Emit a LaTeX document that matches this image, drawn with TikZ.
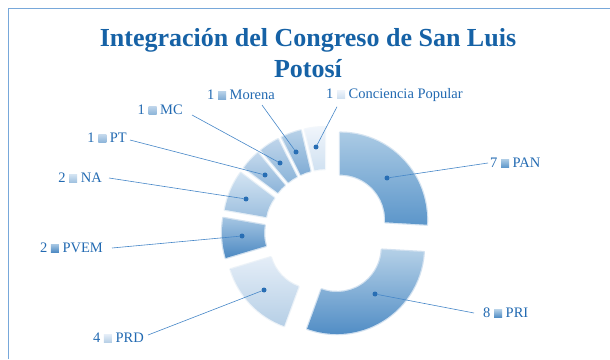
\documentclass[tikz,border=0pt]{standalone}
\usepackage{fontspec}
\setmainfont{Liberation Serif}
\usetikzlibrary{calc}
\definecolor{framec}{RGB}{120,168,218}
\definecolor{titlec}{RGB}{22,98,166}
\definecolor{labelc}{RGB}{34,106,178}
\definecolor{linec}{RGB}{70,135,200}
\definecolor{dotc}{RGB}{40,110,180}
% segment colours (top / bottom)
\definecolor{panT}{RGB}{170,202,228}\definecolor{panB}{RGB}{92,150,202}
\definecolor{priT}{RGB}{180,208,231}\definecolor{priB}{RGB}{78,139,196}
\definecolor{prdT}{RGB}{228,237,247}\definecolor{prdB}{RGB}{182,207,230}
\definecolor{pvemT}{RGB}{164,197,226}\definecolor{pvemB}{RGB}{76,137,194}
\definecolor{naT}{RGB}{210,227,242}\definecolor{naB}{RGB}{158,192,223}
\definecolor{ptT}{RGB}{195,216,236}\definecolor{ptB}{RGB}{140,180,217}
\definecolor{mcT}{RGB}{190,212,234}\definecolor{mcB}{RGB}{140,181,217}
\definecolor{morT}{RGB}{183,209,232}\definecolor{morB}{RGB}{128,172,213}
\definecolor{cpT}{RGB}{240,245,251}\definecolor{cpB}{RGB}{208,225,241}
\newcommand{\dseg}[5]{%
  \begin{scope}[shift={(C)},shift={(#3:18)}]
    \path[draw=#5,draw opacity=.25,line width=2.4pt,line join=round]
      (#1:45) -- (#1:87) arc[start angle=#1,end angle=#2,radius=87]
      -- (#2:45) arc[start angle=#2,end angle=#1,radius=45] -- cycle;
    \path[top color=#4,bottom color=#5]
      (#1:45) -- (#1:87) arc[start angle=#1,end angle=#2,radius=87]
      -- (#2:45) arc[start angle=#2,end angle=#1,radius=45] -- cycle;
  \end{scope}}
\newcommand{\kbox}[2]{\tikz[baseline=0pt]\path[top color=#1,bottom color=#2] (0,0.3pt) rectangle (8pt,8.3pt);}
\tikzset{
  lbl/.style={font=\fontsize{14.5}{16}\selectfont, text=labelc, inner sep=1pt},
  leader/.style={draw=linec, line width=0.6pt},
  dotmark/.style={circle, fill=dotc, inner sep=0pt, minimum size=5pt},
}
\begin{document}
\begin{tikzpicture}[x=1pt,y=1pt]
\useasboundingbox (0,0) rectangle (610,359);
\fill[white] (0,0) rectangle (610,359);
\draw[framec, line width=1pt] (8,0) -- (8,350) -- (610,350);
\node[text=titlec, font=\bfseries\fontsize{26}{31}\selectfont, align=center] (title) at (308,306) {Integración del Congreso de San Luis\\Potosí};
\coordinate (C) at (327,127);
\dseg{90}{-3.333}{43.333}{panT}{panB}
\dseg{-3.333}{-110}{-56.667}{priT}{priB}
\dseg{-110}{-163.333}{-136.667}{prdT}{prdB}
\dseg{-163.333}{-190}{-176.667}{pvemT}{pvemB}
\dseg{-190}{-216.667}{-203.333}{naT}{naB}
\dseg{-216.667}{-230}{-223.333}{ptT}{ptB}
\dseg{-230}{-243.333}{-236.667}{mcT}{mcB}
\dseg{-243.333}{-256.667}{-250}{morT}{morB}
\dseg{-256.667}{-270}{-263.333}{cpT}{cpB}
% dots
\node[dotmark] (dPAN) at (387,181) {};
\node[dotmark] (dPRI) at (375,65) {};
\node[dotmark] (dPRD) at (264,69) {};
\node[dotmark] (dPVEM) at (242,123) {};
\node[dotmark] (dNA) at (246,160) {};
\node[dotmark] (dPT) at (265,184) {};
\node[dotmark] (dMC) at (280,196) {};
\node[dotmark] (dMOR) at (296,207) {};
\node[dotmark] (dCP) at (316,212) {};
% labels
\node[lbl, anchor=west] (lPAN) at (489,196) {7 \kbox{panT}{panB} PAN};
\node[lbl, anchor=west] (lPRI) at (482,46) {8 \kbox{priT}{priB} PRI};
\node[lbl, anchor=east] (lPRD) at (145,21) {4 \kbox{prdT}{prdB} PRD};
\node[lbl, anchor=east] (lPVEM) at (104,111) {2 \kbox{pvemT}{pvemB} PVEM};
\node[lbl, anchor=east] (lNA) at (103,181) {2 \kbox{naT}{naB} NA};
\node[lbl, anchor=east] (lPT) at (128,221) {1 \kbox{ptT}{ptB} PT};
\node[lbl, anchor=east] (lMC) at (184,249) {1 \kbox{mcT}{mcB} MC};
\node[lbl, anchor=west] (lMOR) at (206,264) {1 \kbox{morT}{morB} Morena};
\node[lbl, anchor=west] (lCP) at (325,264) {1 \kbox{cpT}{cpB} Conciencia Popular};
% leaders
\draw[leader] (dPAN) -- ([xshift=-1pt]lPAN.west);
\draw[leader] (dPRI) -- ([xshift=-8pt]lPRI.west);
\draw[leader] (dPRD) -- ([xshift=3pt,yshift=3pt]lPRD.east);
\draw[leader] (dPVEM) -- ([xshift=8pt]lPVEM.east);
\draw[leader] (dNA) -- ([xshift=6pt]lNA.east);
\draw[leader] (dPT) -- ([xshift=2pt,yshift=-2pt]lPT.east);
\draw[leader] (dMC) -- ([xshift=8pt,yshift=-5pt]lMC.east);
\draw[leader] (dMOR) -- ([xshift=-14pt,yshift=-4pt]lMOR.south east);
\draw[leader] (dCP) -- ([xshift=12pt,yshift=-4pt]lCP.south west);
\end{tikzpicture}
\end{document}
